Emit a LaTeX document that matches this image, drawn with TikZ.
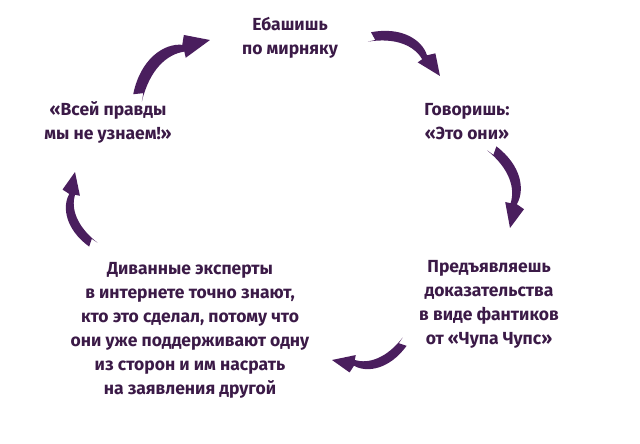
\documentclass[tikz,border=0pt]{standalone}
\usepackage{fontspec}
\setmainfont{Fira Sans}
\definecolor{txt}{HTML}{3B1A47}
\definecolor{arr}{HTML}{4A1E5E}
\newcommand\carrow[4]{%
  \pgfmathsetmacro\ang{atan2(#4-#2,#3-#1)}%
  \pgfmathsetmacro\len{veclen(#3-#1,#4-#2)}%
  \fill[arr, shift={(#1,#2)}, rotate=\ang, scale=\len]
    (0.02,-0.04) -- (0.09,0.02) -- (0,0.08) .. controls (0.3,0.32) and (0.6,0.29) .. (0.74,0.15)
    -- (0.82,0.22) -- (1,0) -- (0.68,0.02) -- (0.71,0.08)
    .. controls (0.55,0.18) and (0.3,0.17) .. (0.02,-0.04) -- cycle;}
\begin{document}
\begin{tikzpicture}[x=1pt,y=1pt,
  lbl/.style={text=txt,font=\bfseries\fontsize{17.5}{24}\selectfont,align=center,inner sep=0pt}]
\useasboundingbox[fill=white] (0,0) rectangle (640,444);
\node[lbl] (t1) at (290,406) {Ебашишь\\по мирняку};
\node[lbl] (t2) at (467,322) {Говоришь:\\«Это они»};
\node[lbl] (t3) at (108,322) {«Всей правды\\мы не узнаем!»};
\node[lbl] (t4) at (489,140) {Предъявляешь\\доказательства\\в виде фантиков\\от «Чупа Чупс»};
\node[lbl] (t5) at (190,114) {Диванные эксперты\\в интернете точно знают,\\кто это сделал, потому что\\они уже поддерживают одну\\из сторон и им насрать\\на заявления другой};
\carrow{368}{406}{440}{368}
\carrow{490}{296}{510}{216}
\carrow{405}{104}{332}{84}
\carrow{95}{199}{75}{272}
\carrow{138}{344}{210}{404}
\end{tikzpicture}
\end{document}
